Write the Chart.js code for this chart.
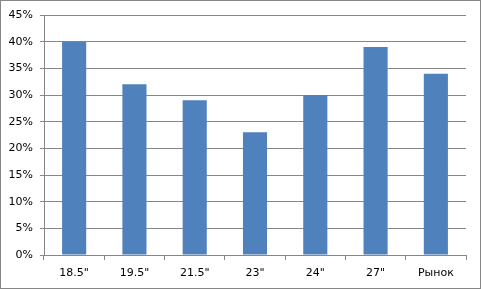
<!DOCTYPE html>
<html>
<head>
<meta charset="utf-8">
<script src="https://cdn.jsdelivr.net/npm/chart.js@4/dist/chart.umd.min.js"></script>
<style>
html,body{margin:0;padding:0;background:#fff;}
#wrap{width:481px;height:289px;box-sizing:border-box;border:1px solid #868686;position:relative;}
canvas{display:block;}
</style>
</head>
<body>
<div id="wrap"><canvas id="c" width="479" height="287"></canvas></div>
<script>
const categories = ['18.5"', '19.5"', '21.5"', '23"', '24"', '27"', 'Рынок'];
const shares = [40, 32, 29, 23, 30, 39, 34];
const yTicks = [0, 5, 10, 15, 20, 25, 30, 35, 40, 45];

Chart.defaults.font.family = '"DejaVu Sans", Verdana, sans-serif';
Chart.defaults.font.size = 11;
Chart.defaults.color = '#000';

new Chart(document.getElementById('c'), {
  type: 'bar',
  data: {
    labels: categories,
    datasets: [{
      data: shares,
      backgroundColor: '#4F81BD',
      borderWidth: 0,
      categoryPercentage: 1,
      barPercentage: 0.4
    }]
  },
  options: {
    responsive: false,
    animation: false,
    events: [],
    layout: { padding: { top: 14, right: 14, left: 0, bottom: 0 } },
    plugins: { legend: { display: false }, tooltip: { enabled: false } },
    scales: {
      x: {
        grid: { drawOnChartArea: false, drawTicks: true, tickLength: 5, color: '#868686', offset: true },
        border: { color: '#868686' },
        ticks: { padding: 7, maxRotation: 0 },
        afterFit: s => { s.height = 33; }
      },
      y: {
        min: 0, max: 45,
        afterBuildTicks: s => { s.ticks = yTicks.map(v => ({ value: v })); },
        grid: { color: '#868686', tickLength: 4 },
        border: { color: '#868686' },
        ticks: { padding: 7, callback: v => v + '%' },
        afterFit: s => { s.width = 43; }
      }
    }
  }
});
</script>
</body>
</html>
